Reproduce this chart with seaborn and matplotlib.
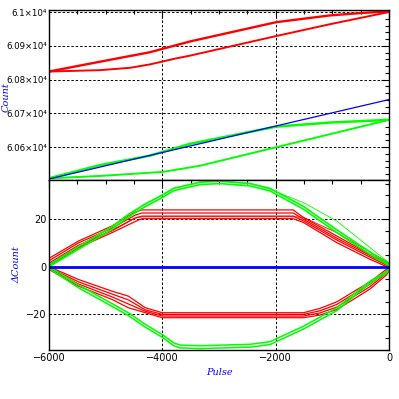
import matplotlib
matplotlib.use('Agg')
import matplotlib.pyplot as plt
from matplotlib.ticker import MultipleLocator, FuncFormatter
import seaborn as sns

# ---- top panel: counts vs pulse ----
top_red_up_x = [-6000, -5100, -4220, -3510, -1990, -1040, -500, 0]
top_red_up_y = [60824, 60853, 60881, 60913, 60970, 60990, 60997, 61002]
top_red_lo_x = [-6000, -5100, -4570, -4220, -3780, -3510, -1990, -1040, 0]
top_red_lo_y = [60824, 60828, 60835, 60845, 60862, 60871, 60929, 60964, 61000]
top_green_up_x = [-6000, -5100, -4220, -3510, -1990, -1040, 0]
top_green_up_y = [60508, 60547, 60575, 60610, 60661, 60673, 60681]
top_green_lo_x = [-6000, -5100, -3990, -3340, -1990, 0]
top_green_lo_y = [60508, 60515, 60527, 60545, 60600, 60681]
top_blue_x = [-6000, 0]
top_blue_y = [60506, 60741]

# ---- bottom panel: delta count vs pulse ----
red_up_x = [-6000, -5480, -4890, -4480, -4360, -1690, -1510, -920, -335, -40, 0]
red_up_y = [
    [0.5, 8.0, 14.3, 19.0, 20.2, 20.2, 18.6, 10.1, 3.1, 0.0, -0.3],
    [1.5, 9.0, 15.3, 20.5, 21.3, 21.3, 19.3, 11.2, 4.0, 0.6, 0.2],
    [2.5, 10.0, 16.2, 21.7, 22.6, 22.6, 20.0, 12.0, 4.7, 1.2, 0.6],
    [3.5, 10.8, 17.1, 23.0, 23.9, 23.9, 20.7, 12.9, 5.2, 1.7, 1.0],
]
red_up_thin = [1.0, 8.5, 15.0, 20.5, 21.0, 21.0, 20.8, 14.3, 6.2, 2.2, 1.5]

red_lo_x = [-6000, -5480, -4890, -4600, -4300, -4000, -1510, -1220, -920, -630, -335, -40, 0]
red_lo_y = [
    [0.0, -5.4, -10.3, -12.4, -17.3, -19.4, -19.4, -17.6, -14.8, -10.6, -6.4, -1.0, -0.3],
    [-0.4, -6.4, -11.5, -14.0, -18.2, -20.1, -20.1, -18.6, -15.9, -11.6, -7.4, -1.8, -0.8],
    [-0.8, -7.3, -12.7, -15.7, -18.8, -20.8, -20.8, -19.5, -17.0, -12.7, -8.4, -2.6, -1.3],
    [-1.2, -8.2, -13.8, -17.3, -19.4, -21.5, -21.5, -20.4, -18.0, -13.8, -9.4, -3.4, -1.8],
]

green_up_x = [-6000, -5480, -4890, -4600, -4300, -4000, -3800, -3330, -2980, -2450,
              -2100, -1510, -920, -335, -40, 0]
green_up_y = [
    [0.0, 7.3, 15.7, 20.9, 25.3, 29.1, 32.0, 34.6, 35.0, 34.0, 31.9, 24.2, 14.3, 5.2, 1.0, 0.0],
    [0.8, 8.5, 16.8, 22.0, 26.4, 30.2, 33.0, 35.6, 36.0, 35.0, 33.0, 25.4, 15.5, 6.2, 1.8, 0.8],
]
green_up_thin = [0.8, 8.5, 16.8, 22.0, 26.4, 30.2, 33.0, 35.6, 36.0, 35.0, 32.6, 27.0, 19.2, 8.0, 2.4, 1.6]

green_lo_x = [-6000, -5480, -4890, -4600, -4300, -4000, -3800, -3690, -3330, -2450,
              -2100, -1510, -920, -630, -335, -40, 0]
green_lo_y = [
    [0.0, -7.7, -15.5, -19.4, -24.3, -28.6, -32.1, -33.0, -33.3, -32.7, -31.6, -25.1, -17.3, -11.7, -6.1, -1.9, -1.0],
    [-0.8, -8.9, -16.7, -20.6, -25.5, -29.8, -33.3, -34.2, -34.5, -33.9, -32.8, -26.3, -18.5, -12.7, -7.0, -2.6, -1.6],
]

blue_x = [-6000, 0]
blue_y = [0.0, 0.0]

RED, GREEN, BLUE = '#ff0000', '#00ff00', '#0000ff'


def trace(ax, xs, ys, color, lw):
    sns.lineplot(x=xs, y=ys, ax=ax, color=color, lw=lw, sort=False,
                 estimator=None, legend=False)


sns.set_style('white')
plt.rcParams['font.family'] = ['DejaVu Sans']

fig = plt.figure(figsize=(3.99, 3.99), dpi=100)
ax_top = fig.add_axes([49 / 399, 1 - 180 / 399, 340 / 399, 170 / 399])
ax_bot = fig.add_axes([49 / 399, 1 - 350 / 399, 340 / 399, 170 / 399])

# top panel
trace(ax_top, top_red_up_x, top_red_up_y, RED, 1.7)
trace(ax_top, top_red_lo_x, top_red_lo_y, RED, 1.4)
trace(ax_top, top_green_up_x, top_green_up_y, GREEN, 1.8)
trace(ax_top, top_green_lo_x, top_green_lo_y, GREEN, 1.4)
trace(ax_top, top_blue_x, top_blue_y, BLUE, 0.9)

# bottom panel
for ys in red_up_y:
    trace(ax_bot, red_up_x, ys, RED, 0.9)
trace(ax_bot, red_up_x, red_up_thin, RED, 0.6)
for ys in red_lo_y:
    trace(ax_bot, red_lo_x, ys, RED, 0.9)
for ys in green_up_y:
    trace(ax_bot, green_up_x, ys, GREEN, 1.2)
trace(ax_bot, green_up_x, green_up_thin, GREEN, 0.6)
for ys in green_lo_y:
    trace(ax_bot, green_lo_x, ys, GREEN, 1.1)
trace(ax_bot, blue_x, blue_y, BLUE, 2.0)

ax_top.set_xlim(-6000, 0)
ax_bot.set_xlim(-6000, 0)
ax_top.set_ylim(60503, 61006)
ax_bot.set_ylim(-35.1, 36.5)

for ax in (ax_top, ax_bot):
    ax.xaxis.set_major_locator(MultipleLocator(2000))
    ax.xaxis.set_minor_locator(MultipleLocator(500))
    ax.tick_params(which='both', direction='in', top=True, right=True,
                   labelsize=7, colors='black', pad=2, width=0.8)
    ax.tick_params(which='major', length=6)
    ax.tick_params(which='minor', length=3)
    ax.grid(True, which='major', color='black', lw=0.7, linestyle=(0, (2.5, 2)))
    for sp in ax.spines.values():
        sp.set_color('black')
        sp.set_linewidth(1.0)
    ax.set_facecolor('white')

ax_top.yaxis.set_major_locator(MultipleLocator(100))
ax_top.yaxis.set_minor_locator(MultipleLocator(20))
ax_top.yaxis.set_major_formatter(FuncFormatter(lambda v, _: f"{v / 1e4:g}×10⁴"))
ax_top.tick_params(labelbottom=False)
ax_top.tick_params(axis='y', labelsize=6.2, pad=1.5)

ax_bot.yaxis.set_major_locator(MultipleLocator(20))
ax_bot.yaxis.set_minor_locator(MultipleLocator(5))

lab = dict(color=BLUE, fontsize=7, style='italic', family='DejaVu Serif')
ax_top.set_xlabel('')
ax_top.set_ylabel('Count', **lab)
ax_top.yaxis.set_label_coords(-0.112, 0.49)
ax_bot.set_ylabel('ΔCount', **lab)
ax_bot.yaxis.set_label_coords(-0.082, 0.5)
ax_bot.set_xlabel('Pulse', **lab)
ax_bot.xaxis.set_label_coords(0.5, -0.105)

fig.savefig('out.png', dpi=100)
